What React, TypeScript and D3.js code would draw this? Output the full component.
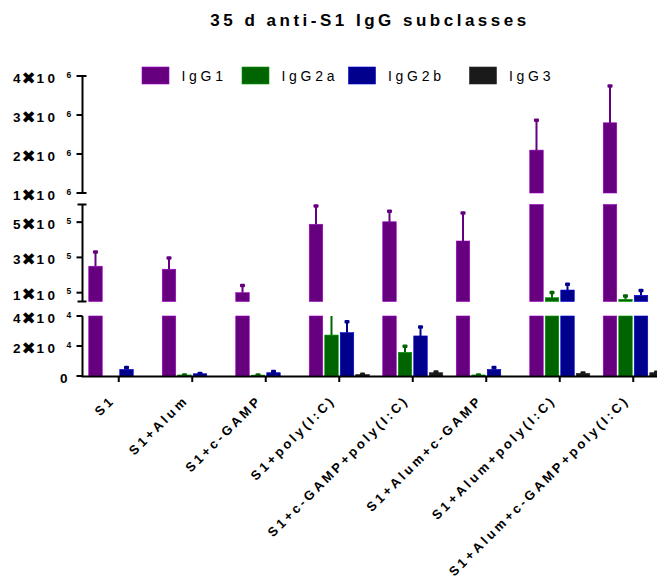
import React, { useEffect, useRef } from "react";
import * as d3 from "d3";

const groups = [
  "S1",
  "S1+Alum",
  "S1+c-GAMP",
  "S1+poly(I:C)",
  "S1+c-GAMP+poly(I:C)",
  "S1+Alum+c-GAMP",
  "S1+Alum+poly(I:C)",
  "S1+Alum+c-GAMP+poly(I:C)",
];
const series = ["IgG1", "IgG2a", "IgG2b", "IgG3"];
const colors = ["#66007f", "#006400", "#00008c", "#1a1a1a"];

// mean values and upper error (SEM)
const igg1 = [250000, 233000, 100000, 488000, 502000, 393000, 2100000, 2800000];
const igg1Err = [82000, 65000, 42000, 105000, 61000, 160000, 770000, 950000];
const igg2a = [0, 700, 600, 27300, 15800, 700, 71500, 62500];
const igg2aErr = [0, 200, 300, 16000, 4200, 200, 30500, 20500];
const igg2b = [4400, 1500, 2200, 28900, 26700, 4400, 115000, 85000];
const igg2bErr = [1400, 400, 900, 7500, 6200, 1400, 34000, 29000];
const igg3 = [0, 0, 0, 1000, 2200, 0, 1800, 2200];
const igg3Err = [0, 0, 0, 300, 600, 0, 300, 400];

const values = [igg1, igg2a, igg2b, igg3];
const errors = [igg1Err, igg2aErr, igg2bErr, igg3Err];

// broken y axis: three pieces
const segDomains = [
  [0, 40000],
  [50000, 600000],
  [1000000, 4000000],
];
const segRanges = [
  [376, 316],
  [301.5, 204.5],
  [193, 76],
];
const segTicks = [
  [0, 20000, 40000],
  [100000, 300000, 500000],
  [1000000, 2000000, 3000000, 4000000],
];

const font = "Liberation Sans, Arial, sans-serif";

const App = () => {
  const svgRef = useRef(null);

  useEffect(() => {
    if (!svgRef.current) return;
    const svg = d3.select(svgRef.current);
    svg.selectAll("*").remove();

    const axisX = 82.5;
    const x0 = d3.scaleBand().domain(groups).range([82, 670]);
    const x1 = d3.scaleBand().domain(series).range([0, 60]).paddingInner(0.13);
    const groupOff = (x0.bandwidth() - 60) / 2;

    const segs = segDomains.map((dom, i) =>
      d3.scaleLinear().domain(dom).range(segRanges[i])
    );

    // bars, drawn piece by piece in each axis segment
    series.forEach((s, si) => {
      const col = colors[si];
      const edge = d3.color(col).brighter(1.2).formatHex();
      groups.forEach((g, gi) => {
        const v = values[si][gi];
        const e = errors[si][gi];
        const bx = x0(g) + groupOff + x1(s);
        const bw = x1.bandwidth();
        segs.forEach((y, k) => {
          const [lo, hi] = segDomains[k];
          if (v > lo) {
            const top = y(Math.min(v, hi));
            const bot = y(lo);
            svg
              .append("rect")
              .attr("x", bx)
              .attr("y", top)
              .attr("width", bw)
              .attr("height", Math.max(bot - top, 0.8))
              .attr("fill", col)
              .attr("stroke", edge)
              .attr("stroke-width", 0.6);
          }
          const ev = v + e;
          if (e > 0 && ev > lo && v < hi) {
            const a = Math.max(v, lo);
            const b = Math.min(ev, hi);
            svg
              .append("line")
              .attr("x1", bx + bw / 2)
              .attr("x2", bx + bw / 2)
              .attr("y1", y(a))
              .attr("y2", y(b))
              .attr("stroke", col)
              .attr("stroke-width", 2);
            if (ev <= hi) {
              svg
                .append("rect")
                .attr("x", bx + bw / 2 - 2.5)
                .attr("y", y(ev) - 1.5)
                .attr("width", 5)
                .attr("height", 3.5)
                .attr("rx", 1)
                .attr("fill", col);
            }
          }
        });
      });
    });

    // y axis segments
    segs.forEach((y, k) => {
      const [r0, r1] = segRanges[k];
      svg
        .append("line")
        .attr("x1", axisX)
        .attr("x2", axisX)
        .attr("y1", r0)
        .attr("y2", r1)
        .attr("stroke", "#000")
        .attr("stroke-width", 2);
      if (k > 0) {
        [r0, r1].forEach((ry) =>
          svg
            .append("line")
            .attr("x1", axisX - 5)
            .attr("x2", axisX + 4)
            .attr("y1", ry)
            .attr("y2", ry)
            .attr("stroke", "#000")
            .attr("stroke-width", 2)
        );
      }
      segTicks[k].forEach((t) => {
        const ty = y(t);
        svg
          .append("line")
          .attr("x1", axisX - 6)
          .attr("x2", axisX)
          .attr("y1", ty)
          .attr("y2", ty)
          .attr("stroke", "#000")
          .attr("stroke-width", 2);
        const label = svg
          .append("text")
          .attr("y", ty + 7)
          .attr("font-family", font)
          .attr("font-weight", "bold")
          .attr("font-size", 13.5);
        if (t === 0) {
          label.attr("x", 60).text("0");
        } else {
          const exp = Math.floor(Math.log10(t));
          const mant = Math.round(t / Math.pow(10, exp));
          label.append("tspan").attr("x", 13).text(mant);
          label
            .append("tspan")
            .attr("x", 21.5)
            .attr("dy", 0.5)
            .attr("font-family", "DejaVu Sans")
            .attr("font-size", 17)
            .text("✖");
          label.append("tspan").attr("x", 36.5).attr("dy", -0.5).text("1");
          label.append("tspan").attr("x", 47.5).text("0");
          label
            .append("tspan")
            .attr("x", 66.5)
            .attr("dy", -5.5)
            .attr("font-size", 8.5)
            .text(exp);
        }
      });
    });

    // x axis
    svg
      .append("line")
      .attr("x1", axisX - 1)
      .attr("x2", 657)
      .attr("y1", 376.5)
      .attr("y2", 376.5)
      .attr("stroke", "#000")
      .attr("stroke-width", 2);
    groups.forEach((g) => {
      const cx = x0(g) + x0.bandwidth() / 2;
      svg
        .append("line")
        .attr("x1", cx)
        .attr("x2", cx)
        .attr("y1", 376)
        .attr("y2", 382)
        .attr("stroke", "#000")
        .attr("stroke-width", 2);
      svg
        .append("text")
        .attr("transform", `translate(${cx - 3},${401}) rotate(-45)`)
        .attr("text-anchor", "end")
        .attr("font-family", font)
        .attr("font-weight", "bold")
        .attr("font-size", 13)
        .attr("letter-spacing", 3.1)
        .text(g);
    });

    // legend
    const legX = [142, 242, 348.5, 469.5];
    series.forEach((s, si) => {
      svg
        .append("rect")
        .attr("x", legX[si])
        .attr("y", 67)
        .attr("width", 27)
        .attr("height", 17)
        .attr("fill", colors[si])
        .attr("stroke", d3.color(colors[si]).brighter(1.2).formatHex())
        .attr("stroke-width", 0.6);
      svg
        .append("text")
        .attr("x", legX[si] + 39.5)
        .attr("y", 80.5)
        .attr("font-family", font)
        .attr("font-size", 14)
        .attr("letter-spacing", 3.7)
        .text(s);
    });

    // title
    svg
      .append("text")
      .attr("x", 370)
      .attr("y", 25.5)
      .attr("text-anchor", "middle")
      .attr("font-family", font)
      .attr("font-weight", "bold")
      .attr("font-size", 17)
      .attr("letter-spacing", 3.5)
      .text("35 d anti-S1 IgG subclasses");
  }, []);

  return (
    <div style={{ position: "absolute", left: 0, top: 0 }}>
      <svg ref={svgRef} width={657} height={582} style={{ display: "block", background: "#fff" }}></svg>
    </div>
  );
};

export default App;
